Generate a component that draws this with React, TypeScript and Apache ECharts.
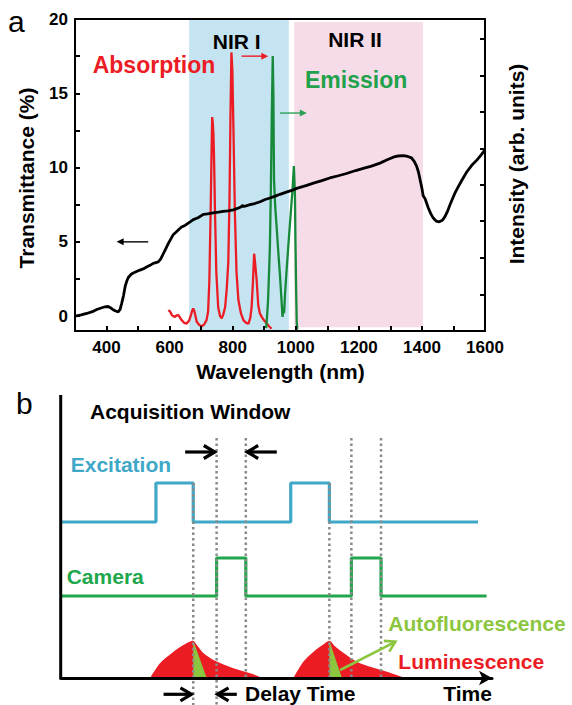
import React, { useEffect, useRef } from 'react';
import * as echarts from 'echarts';

const FONT = '"Liberation Sans", Arial, Helvetica, sans-serif';

// ---------- Panel a data ----------
const transmittanceCurve: [number, number][] = [
  [300, 0.0], [320, 0.08], [337, 0.18], [355, 0.3], [369, 0.45], [383, 0.55], [395, 0.63], [405, 0.65],
  [411, 0.58], [420, 0.45], [427, 0.36], [437, 0.29], [443, 0.45], [448, 0.86], [454, 1.4], [459, 2.0],
  [464, 2.35], [469, 2.6], [477, 2.8], [485, 2.9], [495, 3.0], [506, 3.1], [516, 3.18], [527, 3.3],
  [538, 3.42], [548, 3.55], [556, 3.6], [564, 3.65], [572, 3.85], [580, 4.2], [588, 4.55], [596, 4.9],
  [604, 5.2], [612, 5.5], [620, 5.65], [630, 5.85], [638, 6.0], [650, 6.12], [665, 6.35], [675, 6.5],
  [690, 6.62], [707, 6.85], [720, 6.88], [738, 6.95], [755, 7.0], [770, 7.05], [785, 7.08], [802, 7.15],
  [815, 7.25], [826, 7.35], [831, 7.45], [836, 7.38], [855, 7.5], [870, 7.58], [887, 7.7], [903, 7.85],
  [918, 7.95], [935, 8.08], [950, 8.2], [970, 8.35], [992, 8.5], [1003, 8.6], [1035, 8.8], [1056, 8.95],
  [1080, 9.1], [1108, 9.3], [1135, 9.45], [1161, 9.6], [1190, 9.8], [1214, 9.95], [1240, 10.1],
  [1267, 10.3], [1290, 10.52], [1309, 10.7], [1325, 10.78], [1341, 10.8], [1355, 10.75], [1367, 10.65],
  [1376, 10.4], [1383, 10.1], [1389, 9.7], [1394, 9.2], [1400, 8.6], [1404, 8.1], [1410, 7.9],
  [1420, 7.3], [1428, 6.9], [1436, 6.6], [1445, 6.4], [1455, 6.35], [1465, 6.45], [1473, 6.7],
  [1481, 7.05], [1489, 7.5], [1497, 7.9], [1505, 8.3], [1515, 8.7], [1528, 9.2], [1542, 9.7],
  [1558, 10.15], [1574, 10.5], [1588, 10.85], [1600, 11.2],
];

const absorptionCurve: [number, number][] = [
  [596, 0.4], [602, 0.3], [607, 0.07], [612, 0.0], [617, -0.05], [622, 0.05], [628, 0.07], [633, -0.1],
  [638, -0.27], [646, -0.45], [654, -0.5], [662, -0.3], [668, 0.1], [672, 0.4], [675, 0.52], [679, 0.3],
  [683, -0.1], [686, -0.38], [694, -0.6], [702, -0.68], [710, -0.55], [717, -0.27], [722, 0.3],
  [726, 2.4], [730, 6.9], [733, 11.0], [735, 13.4], [737, 13.0], [739, 12.2], [741, 10.5], [744, 6.9],
  [748, 3.0], [754, 0.6], [760, 0.0], [765, -0.15], [770, 0.1], [776, 0.6], [781, 1.8], [786, 3.6],
  [790, 8.0], [793, 13.5], [796, 17.75], [799, 16.5], [802, 13.0], [807, 6.9], [812, 3.0], [818, 1.1],
  [826, 0.2], [834, -0.27], [842, -0.45], [850, -0.5], [856, -0.1], [860, 0.6], [864, 2.2], [868, 4.2],
  [871, 3.6], [876, 2.4], [881, 0.75], [886, 0.2], [892, -0.05], [900, -0.3], [908, -0.5], [916, -0.7],
  [923, -0.85],
];

const emissionCurve: [number, number][] = [
  [906, -0.8], [908, -0.3], [912, 1.0], [915, 2.8], [918, 4.7], [921, 8.5], [924, 13.5], [927, 17.5],
  [929, 15.0], [931, 9.2], [935, 7.3], [940, 5.8], [945, 4.2], [950, 2.7], [955, 1.0], [958, -0.05],
  [961, 0.6], [963, 0.2], [966, 1.5], [970, 2.8], [975, 4.3], [980, 5.8], [985, 7.2], [990, 8.6],
  [994, 10.1], [996, 9.0], [997.5, 8.0], [999, 5.0], [1001, 2.0], [1003, -0.4], [1005, -0.9],
];

const nirIRange = [662, 978];
const nirIIRange = [995, 1403];
const leftTickLabels = [0, 5, 10, 15, 20];
const leftTickMarks = [0, 2.5, 5, 7.5, 10, 12.5, 15, 17.5, 20];
const rightTickMarks = [1.45, 3.9, 6.4, 8.85, 11.3, 13.75, 16.2, 18.65];
// arrows: [fromX, fromY, toX, toY]
const panelAArrows: number[][] = [
  [828, 17.5, 913, 17.5],
  [950, 13.67, 1035, 13.67],
  [532, 5.0, 432, 5.0],
];

// ---------- Panel b data ----------
const excitationSteps: [number, number][] = [
  [0, 15.6], [21.2, 19.5], [29.5, 15.6], [51.2, 19.5], [59.8, 15.6], [92.9, 15.6],
];
const cameraSteps: [number, number][] = [
  [0, 8.2], [34.7, 12.0], [41.2, 8.2], [64.7, 12.0], [71.3, 8.2], [94.8, 8.2],
];
const luminescence1: [number, number][] = [
  [19.9, 0], [22.1, 1.47], [25.1, 2.63], [27.3, 3.3], [29.5, 3.73], [30.3, 3.3], [31.8, 2.47],
  [34.0, 1.8], [37.0, 1.23], [39.9, 0.77], [42.9, 0.37], [44.8, 0],
];
const luminescence2: [number, number][] = [
  [51.8, 0], [54.0, 1.63], [56.3, 2.63], [58.5, 3.37], [59.8, 3.73], [61.0, 3.2], [62.6, 2.63],
  [65.9, 1.63], [68.9, 1.13], [72.6, 0.63], [76.7, 0],
];
const autofluorescence1: [number, number][] = [[29.5, 3.73], [32.5, 0]];
const autofluorescence2: [number, number][] = [[59.8, 3.73], [62.6, 0]];
// [time, top, bottom]
const gateLines: number[][] = [
  [29.5, 19.5, -2.7], [34.7, 24, -2.7], [41.2, 24, 0],
  [59.8, 19.5, 0], [64.7, 24, 0], [71.3, 24, 0],
];
const panelBArrows: number[][] = [
  [27.7, 22.6, 34.3, 22.6],
  [48.1, 22.6, 41.5, 22.6],
  [22.9, -1.63, 29.1, -1.63],
  [39.2, -1.63, 34.9, -1.63],
];
const autoArrow: number[][] = [[62.2, 0.8, 74.5, 3.63]];
const yAxisB: [number, number][] = [[0, 0], [0, 28.3]];

const RED = '#ec1c24';
const GREEN_LINE = '#17893a';
const GREEN_TXT = '#1fa24b';
const BLUE = '#3fa8c8';
const CAM = '#21a74b';
const LIGHT_GREEN = '#8cc63f';

function arrowRenderer(head: 'filled' | 'open', lw: number, L: number, W: number) {
  return (_p: any, api: any) => {
    const a = api.coord([api.value(0), api.value(1)]);
    const b = api.coord([api.value(2), api.value(3)]);
    const color = api.visual('color');
    const dx = b[0] - a[0];
    const dy = b[1] - a[1];
    const len = Math.hypot(dx, dy) || 1;
    const ux = dx / len, uy = dy / len, px = -uy, py = ux;
    const back = [b[0] - ux * L, b[1] - uy * L];
    const p1 = [back[0] + px * W, back[1] + py * W];
    const p2 = [back[0] - px * W, back[1] - py * W];
    const children: any[] = [];
    if (head === 'filled') {
      children.push({ type: 'line', shape: { x1: a[0], y1: a[1], x2: back[0] + ux, y2: back[1] + uy }, style: { stroke: color, lineWidth: lw } });
      children.push({ type: 'polygon', shape: { points: [b, p1, p2] }, style: { fill: color } });
    } else {
      children.push({ type: 'line', shape: { x1: a[0], y1: a[1], x2: b[0] - ux * lw * 0.5, y2: b[1] - uy * lw * 0.5 }, style: { stroke: color, lineWidth: lw } });
      children.push({ type: 'polyline', shape: { points: [p1, b, p2] }, style: { stroke: color, lineWidth: lw, fill: 'none' } });
    }
    return { type: 'group', children };
  };
}

function txt(text: string, x: number, y: number, size: number, color: string, opts: any = {}) {
  return {
    type: 'text',
    x,
    y,
    rotation: opts.rotation || 0,
    z: 100,
    style: {
      text,
      fill: color,
      fontSize: size,
      fontWeight: opts.weight || 'bold',
      fontFamily: FONT,
      align: opts.align || 'left',
      verticalAlign: 'middle',
    },
  };
}

export default function App() {
  const ref = useRef<HTMLDivElement>(null);
  useEffect(() => {
    if (!ref.current) return;
    const chart = echarts.init(ref.current, undefined, { renderer: 'svg' });
    const axisLabelStyle = { color: '#000', fontSize: 17, fontWeight: 'bold', fontFamily: FONT };
    const option: any = {
      animation: false,
      backgroundColor: '#fff',
      grid: [
        { left: 75, top: 19, width: 410, height: 312, containLabel: false, outerBoundsMode: 'none' },
        { left: 60.7, top: 395, width: 431.3, height: 310, containLabel: false, outerBoundsMode: 'none' },
      ],
      xAxis: [
        {
          type: 'value', gridIndex: 0, min: 300, max: 1600, interval: 100, z: 10,
          axisLine: { show: true, onZero: false, lineStyle: { color: '#000', width: 2 } },
          axisTick: { show: true, inside: true, length: 5, lineStyle: { color: '#000', width: 2 } },
          axisLabel: {
            ...axisLabelStyle, margin: 8,
            formatter: (v: number) => (v % 200 === 0 && v >= 400 ? String(v) : ''),
          },
          splitLine: { show: false },
        },
        {
          type: 'value', gridIndex: 0, position: 'top', min: 300, max: 1600, z: 10,
          axisLine: { show: true, onZero: false, lineStyle: { color: '#000', width: 2 } },
          axisTick: { show: false }, axisLabel: { show: false }, splitLine: { show: false },
        },
        {
          type: 'value', gridIndex: 1, min: 0, max: 96, z: 10,
          axisLine: {
            show: true, onZero: true, symbol: ['none', 'arrow'], symbolSize: [11, 13],
            lineStyle: { color: '#000', width: 3 },
          },
          axisTick: { show: false }, axisLabel: { show: false }, splitLine: { show: false },
        },
      ],
      yAxis: [
        {
          type: 'value', gridIndex: 0, min: -1, max: 20, z: 10,
          axisLine: { show: true, onZero: false, lineStyle: { color: '#000', width: 2 } },
          axisTick: { show: true, inside: true, length: 5, customValues: leftTickMarks, lineStyle: { color: '#000', width: 2 } },
          axisLabel: { ...axisLabelStyle, margin: 7, customValues: leftTickLabels },
          splitLine: { show: false },
        },
        {
          type: 'value', gridIndex: 0, position: 'right', min: -1, max: 20, z: 10,
          axisLine: { show: true, onZero: false, lineStyle: { color: '#000', width: 2 } },
          axisTick: { show: true, inside: true, length: 5, customValues: rightTickMarks, lineStyle: { color: '#000', width: 2 } },
          axisLabel: { show: false },
          splitLine: { show: false },
        },
        {
          type: 'value', gridIndex: 1, min: -2.7, max: 28.3, show: false,
          splitLine: { show: false },
        },
      ],
      series: [
        {
          type: 'line', xAxisIndex: 0, yAxisIndex: 0, z: 1, silent: true,
          data: transmittanceCurve, showSymbol: false, lineStyle: { width: 0, opacity: 0 },
          markArea: {
            silent: true,
            data: [
              [{ xAxis: nirIRange[0], yAxis: -1, itemStyle: { color: '#c3e4f0' } }, { xAxis: nirIRange[1], yAxis: 20 }],
              [{ xAxis: nirIIRange[0], yAxis: -0.75, itemStyle: { color: '#f6dce8' } }, { xAxis: nirIIRange[1], yAxis: 19.8 }],
            ],
          },
        },
        {
          type: 'line', xAxisIndex: 0, yAxisIndex: 1, z: 3, data: absorptionCurve, showSymbol: false,
          lineStyle: { color: RED, width: 2.3 },
        },
        {
          type: 'line', xAxisIndex: 0, yAxisIndex: 1, z: 3, data: emissionCurve, showSymbol: false,
          lineStyle: { color: GREEN_LINE, width: 2.3 },
        },
        {
          type: 'line', xAxisIndex: 0, yAxisIndex: 0, z: 4, data: transmittanceCurve, showSymbol: false,
          lineStyle: { color: '#000', width: 2.8 },
        },
        {
          type: 'custom', xAxisIndex: 0, yAxisIndex: 0, z: 5,
          renderItem: arrowRenderer('filled', 1.4, 7, 3.5),
          encode: { x: [0, 2], y: [1, 3] },
          data: panelAArrows.map((a, i) => ({ value: a, itemStyle: { color: [RED, '#2aa157', '#000'][i] } })),
        },
        // panel b
        {
          type: 'line', xAxisIndex: 2, yAxisIndex: 2, z: 3, data: excitationSteps, step: 'end', showSymbol: false,
          lineStyle: { color: BLUE, width: 3.2 },
        },
        {
          type: 'line', xAxisIndex: 2, yAxisIndex: 2, z: 3, data: cameraSteps, step: 'end', showSymbol: false,
          lineStyle: { color: CAM, width: 3.2 },
        },
        {
          type: 'line', xAxisIndex: 2, yAxisIndex: 2, z: 2, data: luminescence1, showSymbol: false, smooth: 0.3,
          lineStyle: { width: 0 }, areaStyle: { color: RED, opacity: 1 },
        },
        {
          type: 'line', xAxisIndex: 2, yAxisIndex: 2, z: 2, data: luminescence2, showSymbol: false, smooth: 0.3,
          lineStyle: { width: 0 }, areaStyle: { color: RED, opacity: 1 },
        },
        {
          type: 'line', xAxisIndex: 2, yAxisIndex: 2, z: 3, data: autofluorescence1, showSymbol: false,
          lineStyle: { width: 0 }, areaStyle: { color: LIGHT_GREEN, opacity: 1 },
        },
        {
          type: 'line', xAxisIndex: 2, yAxisIndex: 2, z: 3, data: autofluorescence2, showSymbol: false,
          lineStyle: { width: 0 }, areaStyle: { color: LIGHT_GREEN, opacity: 1 },
        },
        {
          type: 'custom', xAxisIndex: 2, yAxisIndex: 2, z: 6,
          encode: { x: 0, y: [1, 2] },
          renderItem: (_p: any, api: any) => {
            const t = api.value(0);
            const a = api.coord([t, api.value(1)]);
            const b = api.coord([t, api.value(2)]);
            return {
              type: 'line',
              shape: { x1: a[0], y1: a[1], x2: b[0], y2: b[1] },
              style: { stroke: '#8a8a8a', lineWidth: 2.5, lineDash: [2.5, 3] },
            };
          },
          data: gateLines,
        },
        {
          type: 'custom', xAxisIndex: 2, yAxisIndex: 2, z: 7,
          renderItem: arrowRenderer('open', 3.2, 11, 6.5),
          encode: { x: [0, 2], y: [1, 3] },
          data: panelBArrows.map((a) => ({ value: a, itemStyle: { color: '#000' } })),
        },
        {
          type: 'custom', xAxisIndex: 2, yAxisIndex: 2, z: 7,
          renderItem: arrowRenderer('open', 2.6, 10, 6),
          encode: { x: [0, 2], y: [1, 3] },
          data: autoArrow.map((a) => ({ value: a, itemStyle: { color: LIGHT_GREEN } })),
        },
        {
          type: 'line', xAxisIndex: 2, yAxisIndex: 2, z: 8, data: yAxisB, showSymbol: false,
          lineStyle: { color: '#000', width: 3 },
        },
      ],
      graphic: [
        txt('a', 8, 21, 30, '#000', { weight: 'normal' }),
        txt('b', 16, 403, 30, '#000', { weight: 'normal' }),
        txt('NIR I', 236.7, 41.7, 21, '#000', { align: 'center' }),
        txt('NIR II', 355, 39.5, 21, '#000', { align: 'center' }),
        txt('Absorption', 92.7, 65, 23, RED),
        txt('Emission', 305, 80, 23, GREEN_TXT),
        txt('Transmittance (%)', 26, 178, 21, '#000', { align: 'center', rotation: Math.PI / 2 }),
        txt('Intensity (arb. units)', 516, 164, 21, '#000', { align: 'center', rotation: Math.PI / 2 }),
        txt('Wavelength (nm)', 280.5, 371.7, 21, '#000', { align: 'center' }),
        txt('Acquisition Window', 90, 411.7, 21, '#000'),
        txt('Excitation', 70.7, 464.3, 21, BLUE),
        txt('Camera', 66.7, 576.7, 21, CAM),
        txt('Autofluorescence', 388.3, 623.3, 21, LIGHT_GREEN),
        txt('Luminescence', 398.3, 661.7, 21, RED),
        txt('Delay Time', 245, 693.5, 21, '#000'),
        txt('Time', 443.3, 693.5, 21, '#000'),
      ],
    };
    chart.setOption(option);
    return () => chart.dispose();
  }, []);
  return (
    <div
      ref={ref}
      style={{ position: 'absolute', left: 0, top: 0, width: 572, height: 705, background: '#fff' }}
    />
  );
}
